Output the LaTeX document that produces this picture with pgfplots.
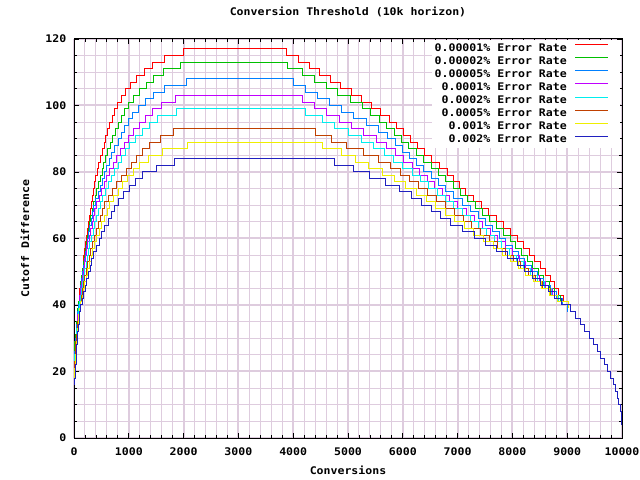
\documentclass[border=0pt]{standalone}
\usepackage{fontspec}
\setmainfont{DejaVu Sans Mono}[FakeStretch=1.1]
\usepackage{pgfplots}
\pgfplotsset{compat=1.18}
\definecolor{c1}{RGB}{255,0,0}
\definecolor{c2}{RGB}{0,192,0}
\definecolor{c3}{RGB}{0,128,255}
\definecolor{c4}{RGB}{192,0,255}
\definecolor{c5}{RGB}{0,238,238}
\definecolor{c6}{RGB}{192,64,0}
\definecolor{c7}{RGB}{238,238,0}
\definecolor{c8}{RGB}{32,32,192}
\definecolor{gridc}{RGB}{222,204,222}
\begin{document}
\fontsize{10.5bp}{12bp}\selectfont\bfseries
\begin{tikzpicture}
\begin{axis}[
 at={(74bp,42bp)}, anchor=south west, scale only axis, width=548bp, height=399bp,
 xmin=0, xmax=10000, ymin=0, ymax=120,
 xtick={0,1000,...,10000}, ytick={0,20,...,120},
 scaled x ticks=false,
 minor x tick num=4, minor y tick num=3,
 grid=both,
 major grid style={gridc, line width=2bp},
 minor grid style={gridc, line width=1bp},
 tick align=inside, major tick length=5bp, minor tick length=3bp,
 every tick/.style={black, line width=0.8bp},
 axis line style={black, line width=1bp},
 /pgf/number format/assume math mode=true,
 /pgf/number format/1000 sep={},
 xticklabel style={yshift=-6bp},
 yticklabel style={xshift=-4bp},
 title={Conversion Threshold (10k horizon)},
 title style={at={(axis description cs:0.5,1.0526)}, anchor=center},
 xlabel={Conversions}, xlabel style={at={(axis description cs:0.5,-0.080)}, anchor=center},
 ylabel={Cutoff Difference}, ylabel style={at={(axis description cs:-0.0894,0.5)}, anchor=center},
 legend style={at={(axis description cs:1,1)}, anchor=north east, xshift=-2bp, yshift=-1bp,
   fill=white, draw=none, inner sep=3bp, row sep=3.1bp,
   nodes={inner sep=0pt, text height=8bp, text depth=2bp}},
 legend cell align=right, legend plot pos=right,
 legend image code/.code={\path (0bp,0bp) (49bp,0bp); \draw[#1] (8bp,3.5bp) -- (41bp,3.5bp);},
 every axis plot/.append style={const plot, line width=1bp},
]
\addplot[c1] coordinates {(0,25)(6,27)(19,29)(30,31)(40,33)(50,35)(60,37)(71,39)(84,41)(96,43)(109,45)(122,47)(137,49)(152,51)(167,53)(182,55)(197,57)(214,59)(231,61)(249,63)(266,65)(284,67)(301,69)(319,71)(336,73)(355,75)(375,77)(399,79)(426,81)(455,83)(485,85)(516,87)(549,89)(582,91)(617,93)(656,95)(699,97)(747,99)(802,101)(867,103)(942,105)(1035,107)(1145,109)(1280,111)(1440,113)(1650,115)(2000,117)
(3870,115)(4090,113)(4290,111)(4480,109)(4680,107)(4870,105)(5060,103)(5240,101)(5420,99)(5590,97)(5750,95)(5880,93)(6010,91)(6140,89)(6260,87)(6390,85)(6530,83)(6670,81)(6810,79)(6930,77)(7040,75)(7150,73)(7290,71)(7430,69)(7570,67)(7710,65)(7840,63)(7970,61)(8090,59)(8200,57)(8310,55)(8410,53)(8510,51)(8600,49)(8690,47)(8770,45)(8850,43)(8930,41)(9020,39)};
\addlegendentry{0.00001\% Error Rate}
\addplot[c2] coordinates {(0,23)(5,25)(9,27)(18,29)(27,31)(38,33)(49,35)(60,37)(71,39)(83,41)(98,43)(112,45)(126,47)(141,49)(156,51)(172,53)(188,55)(204,57)(220,59)(239,61)(262,63)(284,65)(306,67)(329,69)(355,71)(386,73)(416,75)(447,77)(477,79)(511,81)(546,83)(580,85)(617,87)(663,89)(708,91)(754,93)(803,95)(864,97)(924,99)(994,101)(1091,103)(1188,105)(1316,107)(1455,109)(1636,111)(1950,113)
(3900,111)(4175,109)(4387,107)(4600,105)(4817,103)(5038,101)(5258,99)(5419,97)(5569,95)(5707,93)(5842,91)(5976,89)(6111,87)(6246,85)(6380,83)(6515,81)(6650,79)(6784,77)(6919,75)(7054,73)(7189,71)(7323,69)(7456,67)(7585,65)(7714,63)(7842,61)(7964,59)(8065,57)(8166,55)(8267,53)(8370,51)(8470,49)(8570,47)(8672,45)(8773,43)(8875,41)(9020,39)};
\addlegendentry{0.00002\% Error Rate}
\addplot[c3] coordinates {(0,22)(7,24)(14,26)(20,28)(27,30)(37,32)(48,34)(58,36)(69,38)(79,40)(94,42)(110,44)(125,46)(141,48)(156,50)(174,52)(191,54)(209,56)(226,58)(244,60)(268,62)(291,64)(315,66)(338,68)(362,70)(401,72)(439,74)(478,76)(516,78)(556,80)(602,82)(647,84)(693,86)(742,88)(803,90)(864,92)(927,94)(1000,96)(1073,98)(1182,100)(1303,102)(1455,104)(1657,106)(2050,108)
(4006,106)(4230,104)(4450,102)(4670,100)(4890,98)(5100,96)(5330,94)(5560,92)(5729,90)(5858,88)(5987,86)(6115,84)(6246,82)(6380,80)(6515,78)(6650,76)(6784,74)(6932,72)(7084,70)(7235,68)(7386,66)(7515,64)(7636,62)(7758,60)(7879,58)(7996,56)(8111,54)(8227,52)(8342,50)(8458,48)(8573,46)(8688,44)(8804,42)(8919,40)(9010,38)};
\addlegendentry{0.00005\% Error Rate}
\addplot[c4] coordinates {(0,21)(4,23)(12,25)(20,27)(28,29)(37,31)(48,33)(58,35)(68,37)(79,39)(92,41)(109,43)(126,45)(143,47)(160,49)(178,51)(197,53)(217,55)(236,57)(255,59)(278,61)(304,63)(330,65)(356,67)(382,69)(417,71)(462,73)(506,75)(551,77)(595,79)(651,81)(712,83)(773,85)(843,87)(915,89)(994,91)(1091,93)(1188,95)(1303,97)(1425,99)(1600,101)(1850,103)
(4170,101)(4390,99)(4610,97)(4840,95)(5060,93)(5290,91)(5520,89)(5700,87)(5860,85)(6020,83)(6177,81)(6313,79)(6447,77)(6582,75)(6717,73)(6856,71)(7007,69)(7159,67)(7310,65)(7459,63)(7597,61)(7736,59)(7874,57)(8000,55)(8121,53)(8243,51)(8364,49)(8486,47)(8607,45)(8728,43)(8850,41)(9020,39)};
\addlegendentry{0.0001\% Error Rate}
\addplot[c5] coordinates {(0,21)(8,23)(16,25)(24,27)(32,29)(41,31)(52,33)(63,35)(74,37)(85,39)(100,41)(119,43)(138,45)(157,47)(176,49)(197,51)(220,53)(243,55)(266,57)(289,59)(316,61)(349,63)(381,65)(413,67)(446,69)(477,71)(524,73)(576,75)(628,77)(682,79)(742,81)(803,83)(866,85)(939,87)(1012,89)(1121,91)(1243,93)(1377,95)(1515,97)(1870,99)
(4230,97)(4540,95)(4758,93)(5000,91)(5243,89)(5467,87)(5667,85)(5835,83)(6002,81)(6170,79)(6326,77)(6477,75)(6629,73)(6780,71)(6932,69)(7084,67)(7235,65)(7386,63)(7529,61)(7669,59)(7809,57)(7943,55)(8071,53)(8199,51)(8327,49)(8455,47)(8583,45)(8710,43)(8838,41)(9020,39)};
\addlegendentry{0.0002\% Error Rate}
\addplot[c6] coordinates {(0,19)(7,21)(15,23)(22,25)(29,27)(36,29)(46,31)(58,33)(70,35)(81,37)(93,39)(110,41)(132,43)(154,45)(176,47)(198,49)(223,51)(250,53)(278,55)(305,57)(332,59)(366,61)(405,63)(445,65)(485,67)(524,69)(565,71)(629,73)(700,75)(770,77)(861,79)(957,81)(1053,83)(1144,85)(1247,87)(1386,89)(1576,91)(1818,93)
(4412,91)(4700,89)(4980,87)(5280,85)(5560,83)(5775,81)(5950,79)(6125,77)(6293,75)(6454,73)(6616,71)(6778,69)(6939,67)(7101,65)(7262,63)(7424,61)(7578,59)(7732,57)(7882,55)(8017,53)(8152,51)(8287,49)(8422,47)(8557,45)(8692,43)(8827,41)(9020,39)};
\addlegendentry{0.0005\% Error Rate}
\addplot[c7] coordinates {(0,17)(8,19)(15,21)(23,23)(31,25)(38,27)(46,29)(56,31)(68,33)(80,35)(91,37)(103,39)(121,41)(146,43)(171,45)(196,47)(220,49)(249,51)(280,53)(312,55)(344,57)(376,59)(416,61)(462,63)(510,65)(556,67)(604,69)(654,71)(727,73)(808,75)(889,77)(982,79)(1079,81)(1192,83)(1354,85)(1621,87)(2080,89)
(4533,87)(4883,85)(5128,83)(5383,81)(5632,79)(5843,77)(6054,75)(6255,73)(6429,71)(6602,69)(6775,67)(6948,65)(7121,63)(7294,61)(7470,59)(7652,57)(7823,55)(7965,53)(8107,51)(8248,49)(8390,47)(8531,45)(8673,43)(8814,41)(9020,39)};
\addlegendentry{0.001\% Error Rate}
\addplot[c8] coordinates {(0,16)(15,18)(25,20)(33,22)(39,24)(45,26)(51,28)(57,30)(65,32)(79,34)(93,36)(107,38)(121,40)(149,42)(177,44)(205,46)(235,48)(265,50)(296,52)(326,54)(356,56)(404,58)(457,60)(510,62)(563,64)(621,66)(682,68)(742,70)(812,72)(909,74)(1006,76)(1121,78)(1243,80)(1500,82)(1840,84)
(4746,82)(5100,80)(5400,78)(5680,76)(5934,74)(6156,72)(6342,70)(6515,68)(6688,66)(6873,64)(7092,62)(7311,60)(7518,58)(7713,56)(7909,54)(8085,52)(8220,50)(8359,48)(8510,46)(8654,44)(8775,42)(8896,40)(9060,38)(9150,36)(9240,34)(9320,32)(9400,30)(9475,28)(9545,26)(9615,24)(9680,22)(9740,20)(9795,18)(9845,16)(9880,14)(9915,12)(9942,10)(9965,8)(9982,6)(9995,4)(10000,4)};
\addlegendentry{0.002\% Error Rate}
\end{axis}
\pgfresetboundingbox
\useasboundingbox (0,0) rectangle (640bp,480bp);
\end{tikzpicture}
\end{document}
